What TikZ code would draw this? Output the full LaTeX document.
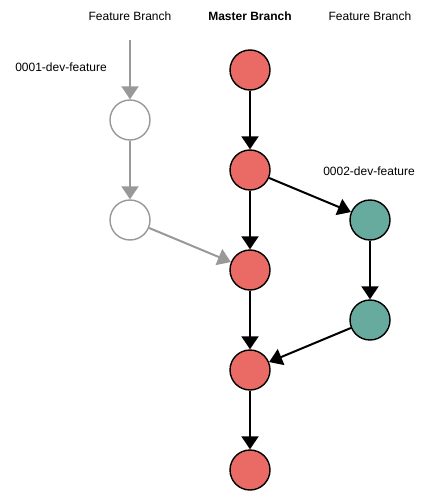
\documentclass[tikz,border=0pt]{standalone}
\usepackage{fontspec}
\setmainfont{Liberation Sans}
\usepackage{tikz}
\usetikzlibrary{arrows.meta}
\definecolor{masterred}{HTML}{EA6B66}
\definecolor{featteal}{HTML}{67AB9F}
\definecolor{oldgray}{HTML}{999999}

\begin{document}
\begin{tikzpicture}[x=1pt, y=-1pt,
  commit/.style={draw, circle, minimum size=40pt, inner sep=0pt, line width=1.4pt},
  master/.style={commit, fill=masterred},
  feature/.style={commit, fill=featteal},
  merged/.style={commit, draw=oldgray, fill=white},
  flow/.style={line width=2pt, -{Triangle[length=13pt, width=17pt]}},
  oldflow/.style={flow, draw=oldgray, color=oldgray},
  lbl/.style={font=\fontsize{12}{14}\selectfont, inner sep=0pt}]
\useasboundingbox (0,0) rectangle (431,492);
% column titles
\node[lbl] (t1) at (130,16) {Feature Branch};
\node[lbl] (t2) at (250,16) {\bfseries Master Branch};
\node[lbl] (t3) at (370,16) {Feature Branch};
\node[lbl] (f1) at (61,67) {0001-dev-feature};
\node[lbl] (f2) at (369,171) {0002-dev-feature};
% master
\node[master] (m1) at (250,70) {};
\node[master] (m2) at (250,170) {};
\node[master] (m3) at (250,270) {};
\node[master] (m4) at (250,370) {};
\node[master] (m5) at (250,470) {};
% old feature
\coordinate (g0) at (130,40);
\node[merged] (g1) at (130,120) {};
\node[merged] (g2) at (130,220) {};
% new feature
\node[feature] (n1) at (370,220) {};
\node[feature] (n2) at (370,320) {};
% edges
\draw[oldflow] (g0) -- (g1);
\draw[oldflow] (g1) -- (g2);
\draw[oldflow] (g2) -- (m3);
\draw[flow] (m1) -- (m2);
\draw[flow] (m2) -- (m3);
\draw[flow] (m3) -- (m4);
\draw[flow] (m4) -- (m5);
\draw[flow] (m2) -- (n1);
\draw[flow] (n1) -- (n2);
\draw[flow] (n2) -- (m4);
\end{tikzpicture}
\end{document}
